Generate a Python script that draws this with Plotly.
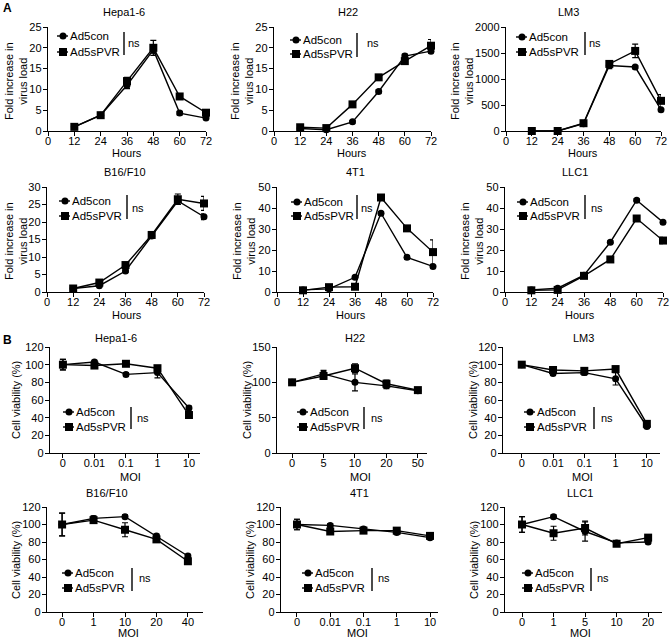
import plotly.graph_objects as go

W, H = 671, 641
FONT = "Arial, Liberation Sans, sans-serif"

# ---------------- data ----------------
hours = [12, 24, 36, 48, 60, 72]

hepa_load_con = [1.0, 3.8, 11.0, 19.5, 4.3, 3.1]
hepa_load_con_err = [0.2, 0.3, 0.8, 0.8, 0.4, 0.3]
hepa_load_pvr = [1.0, 3.8, 12.0, 20.0, 8.3, 4.4]
hepa_load_pvr_err = [0.2, 0.3, 0.9, 1.8, 0.5, 0.5]

h22_load_con = [0.6, 0.3, 2.2, 9.5, 18.0, 19.2]
h22_load_con_err = [0.2, 0.1, 0.3, 0.4, 0.5, 0.5]
h22_load_pvr = [0.9, 0.7, 6.4, 12.9, 16.8, 20.5]
h22_load_pvr_err = [0.2, 0.2, 0.4, 0.4, 0.6, 1.5]

lm3_load_con = [0, 0, 140, 1260, 1230, 410]
lm3_load_con_err = [5, 5, 20, 60, 30, 30]
lm3_load_pvr = [0, 0, 150, 1290, 1540, 580]
lm3_load_pvr_err = [5, 5, 20, 40, 130, 120]

b16_load_con = [1.0, 1.8, 6.0, 16.0, 26.0, 21.5]
b16_load_con_err = [0.2, 0.3, 0.4, 0.5, 1.0, 0.8]
b16_load_pvr = [1.0, 2.7, 7.7, 16.3, 26.5, 25.3]
b16_load_pvr_err = [0.2, 0.3, 0.4, 0.5, 1.5, 2.0]

t41_load_con = [1.0, 1.5, 7.0, 37.5, 16.5, 12.2]
t41_load_con_err = [0.2, 0.3, 0.5, 0.8, 0.8, 0.8]
t41_load_pvr = [0.8, 2.3, 2.5, 45.0, 30.3, 19.0]
t41_load_pvr_err = [0.2, 0.3, 0.4, 0.8, 0.8, 5.8]

llc_load_con = [1.0, 1.8, 8.0, 23.7, 43.7, 33.2]
llc_load_con_err = [0.2, 0.3, 0.5, 0.6, 0.6, 0.6]
llc_load_pvr = [0.8, 1.0, 7.7, 15.5, 35.0, 24.5]
llc_load_pvr_err = [0.2, 0.3, 0.5, 0.6, 0.6, 1.5]

moi_hepa = ["0", "0.01", "0.1", "1", "10"]
hepa_via_con = [100, 103, 89, 91, 51]
hepa_via_con_err = [6, 2, 2, 6, 2]
hepa_via_pvr = [100, 99, 101, 96, 43]
hepa_via_pvr_err = [6, 3, 2, 3, 2]

moi_h22 = ["0", "5", "10", "20", "50"]
h22_via_con = [100, 112, 100, 95, 88]
h22_via_con_err = [2, 5, 12, 4, 3]
h22_via_pvr = [100, 109, 120, 98, 89]
h22_via_pvr_err = [2, 5, 6, 5, 3]

moi_lm3 = ["0", "0.01", "0.1", "1", "10"]
lm3_via_con = [100, 90, 91, 84, 30]
lm3_via_con_err = [2, 2, 3, 7, 2]
lm3_via_pvr = [100, 94, 93, 95, 33]
lm3_via_pvr_err = [2, 2, 3, 3, 2]

moi_b16 = ["0", "1", "10", "20", "40"]
b16_via_con = [100, 107, 109, 87, 64]
b16_via_con_err = [13, 3, 2, 2, 2]
b16_via_pvr = [100, 105, 94, 83, 58]
b16_via_pvr_err = [13, 3, 8, 2, 2]

moi_4t1 = ["0", "0.01", "0.1", "1", "10"]
t41_via_con = [100, 99, 95, 91, 85]
t41_via_con_err = [6, 2, 2, 2, 2]
t41_via_pvr = [100, 92, 93, 93, 87]
t41_via_pvr_err = [6, 3, 2, 2, 2]

moi_llc = ["0", "1", "5", "10", "20"]
llc_via_con = [100, 109, 92, 79, 80]
llc_via_con_err = [9, 2, 11, 2, 2]
llc_via_pvr = [100, 90, 96, 78, 85]
llc_via_pvr_err = [9, 8, 8, 2, 2]

titles = ["Hepa1-6", "H22", "LM3", "B16/F10", "4T1", "LLC1",
          "Hepa1-6", "H22", "LM3", "B16/F10", "4T1", "LLC1"]
series_names = ["Ad5con", "Ad5sPVR"]

# ---------------- panel layout (pixels) ----------------
load_title = "Fold increase in<br>virus load"
via_title = "Cell viability (%)"

panels = [
    dict(x=hours, c=hepa_load_con, ce=hepa_load_con_err, p=hepa_load_pvr, pe=hepa_load_pvr_err,
         xd=(48, 206), yd=(27, 131), xr=(0, 72), yr=(0, 25), dy=5, tp=(124, 12), yt=16, yty=81,
         xt=("Hours", 127, 153), lg=(63, 36, 52, 124, 32, 55, 134, 43)),
    dict(x=hours, c=h22_load_con, ce=h22_load_con_err, p=h22_load_pvr, pe=h22_load_pvr_err,
         xd=(274, 431), yd=(27, 131), xr=(0, 72), yr=(0, 25), dy=5, tp=(348, 12), yt=242, yty=81,
         xt=("Hours", 352, 153), lg=(296, 40, 54, 357, 33, 57, 373, 43)),
    dict(x=hours, c=lm3_load_con, ce=lm3_load_con_err, p=lm3_load_pvr, pe=lm3_load_pvr_err,
         xd=(506, 661), yd=(27, 131), xr=(0, 72), yr=(0, 2000), dy=500, tp=(568, 12), yt=462, yty=81,
         xt=("Hours", 583, 153), lg=(522, 37, 52, 585, 32, 55, 595, 43)),
    dict(x=hours, c=b16_load_con, ce=b16_load_con_err, p=b16_load_pvr, pe=b16_load_pvr_err,
         xd=(47, 204), yd=(187, 292), xr=(0, 72), yr=(0, 30), dy=5, tp=(125, 172), yt=16, yty=241,
         xt=("Hours", 127, 315), lg=(65, 201, 216, 127, 195, 219, 138, 208)),
    dict(x=hours, c=t41_load_con, ce=t41_load_con_err, p=t41_load_pvr, pe=t41_load_pvr_err,
         xd=(277, 433), yd=(187, 292), xr=(0, 72), yr=(0, 50), dy=10, tp=(355, 172), yt=244, yty=241,
         xt=("Hours", 351, 315), lg=(297, 202, 216, 357, 195, 219, 367, 208)),
    dict(x=hours, c=llc_load_con, ce=llc_load_con_err, p=llc_load_pvr, pe=llc_load_pvr_err,
         xd=(505, 663), yd=(187, 292), xr=(0, 72), yr=(0, 50), dy=10, tp=(575, 172), yt=472, yty=241,
         xt=("Hours", 580, 315), lg=(523, 202, 216, 585, 195, 219, 597, 208)),
    dict(x=moi_hepa, c=hepa_via_con, ce=hepa_via_con_err, p=hepa_via_pvr, pe=hepa_via_pvr_err,
         xd=(50, 200), yd=(347, 453), xr=(-0.41, 4.35), yr=(0, 120), dy=20, tp=(116, 338), yt=16, yty=400,
         xt=("MOI", 130, 477), lg=(69, 412, 427, 131, 407, 429, 143, 418)),
    dict(x=moi_h22, c=h22_via_con, ce=h22_via_con_err, p=h22_via_pvr, pe=h22_via_pvr_err,
         xd=(277, 427), yd=(347, 453), xr=(-0.48, 4.29), yr=(0, 150), dy=50, tp=(355, 338), yt=247, yty=400,
         xt=("MOI", 360, 477), lg=(303, 412, 427, 364, 407, 429, 377, 418)),
    dict(x=moi_lm3, c=lm3_via_con, ce=lm3_via_con_err, p=lm3_via_pvr, pe=lm3_via_pvr_err,
         xd=(503, 660), yd=(347, 453), xr=(-0.6, 4.42), yr=(0, 120), dy=20, tp=(583, 338), yt=473, yty=400,
         xt=("MOI", 582, 477), lg=(530, 412, 427, 594, 407, 429, 607, 418)),
    dict(x=moi_b16, c=b16_via_con, ce=b16_via_con_err, p=b16_via_pvr, pe=b16_via_pvr_err,
         xd=(47, 203), yd=(507, 612), xr=(-0.48, 4.48), yr=(0, 120), dy=20, tp=(107, 493), yt=16, yty=560,
         xt=("MOI", 128, 633), lg=(68, 573, 588, 132, 568, 591, 145, 578)),
    dict(x=moi_4t1, c=t41_via_con, ce=t41_via_con_err, p=t41_via_pvr, pe=t41_via_pvr_err,
         xd=(281, 438), yd=(507, 612), xr=(-0.48, 4.24), yr=(0, 120), dy=20, tp=(359, 493), yt=250, yty=560,
         xt=("MOI", 357, 633), lg=(308, 573, 588, 372, 568, 591, 384, 578)),
    dict(x=moi_llc, c=llc_via_con, ce=llc_via_con_err, p=llc_via_pvr, pe=llc_via_pvr_err,
         xd=(505, 662), yd=(507, 612), xr=(-0.54, 4.44), yr=(0, 120), dy=20, tp=(580, 493), yt=474, yty=560,
         xt=("MOI", 580, 633), lg=(528, 573, 588, 591, 568, 591, 603, 578)),
]


def px(x):
    return x / W


def py(y):
    return 1 - y / H


fig = go.Figure()
annotations = []
shapes = []
LW = 1.4

for i, P in enumerate(panels):
    n = i + 1
    xa = "x" if n == 1 else f"x{n}"
    ya = "y" if n == 1 else f"y{n}"
    for vals, errs, sym, size in ((P["c"], P["ce"], "circle", 7), (P["p"], P["pe"], "square", 8)):
        fig.add_trace(go.Scatter(
            x=P["x"], y=vals, xaxis=xa, yaxis=ya, mode="lines+markers",
            line=dict(color="black", width=LW),
            marker=dict(symbol=sym, size=size, color="black"),
            error_y=dict(type="data", array=errs, visible=True, color="black", thickness=1.2, width=3),
            cliponaxis=False, showlegend=False,
        ))
    is_cat = isinstance(P["x"][0], str)
    axis_common = dict(showline=True, linecolor="black", linewidth=LW, ticks="outside",
                       ticklen=4, tickwidth=LW, tickcolor="black", showgrid=False, zeroline=False,
                       automargin=False,
                       tickfont=dict(family=FONT, size=11, color="black"))
    xkw = dict(axis_common, domain=[px(P["xd"][0]), px(P["xd"][1])], anchor=ya, range=list(P["xr"]),
               ticklabelstandoff=-4)
    if is_cat:
        xkw.update(type="category", categoryorder="array", categoryarray=P["x"])
    else:
        xkw.update(tickmode="array", tickvals=[0, 12, 24, 36, 48, 60, 72])
    ykw = dict(axis_common, domain=[py(P["yd"][1]), py(P["yd"][0])], anchor=xa, range=list(P["yr"]),
               tickmode="linear", tick0=0, dtick=P["dy"], ticklabelstandoff=-1)
    fig.update_layout(**{("xaxis" if n == 1 else f"xaxis{n}"): xkw,
                         ("yaxis" if n == 1 else f"yaxis{n}"): ykw})

    annotations.append(dict(text=titles[i], x=px(P["tp"][0]), y=py(P["tp"][1]), xref="paper", yref="paper",
                            showarrow=False, xanchor="center", yanchor="middle",
                            font=dict(family=FONT, size=11, color="black")))
    annotations.append(dict(text=load_title if i < 6 else via_title, x=px(P["yt"]), y=py(P["yty"]),
                            xref="paper", yref="paper", showarrow=False, textangle=-90,
                            xanchor="center", yanchor="middle",
                            font=dict(family=FONT, size=11, color="black")))
    annotations.append(dict(text=P["xt"][0], x=px(P["xt"][1]), y=py(P["xt"][2]), xref="paper", yref="paper",
                            showarrow=False, xanchor="center", yanchor="middle",
                            font=dict(family=FONT, size=11, color="black")))
    mx, y1, y2, vx, vy0, vy1, nsx, nsy = P["lg"]
    for (yy, sym, nm) in ((y1, "circle", series_names[0]), (y2, "square", series_names[1])):
        shapes.append(dict(type="line", xref="paper", yref="paper", x0=px(mx - 6), x1=px(mx + 5),
                           y0=py(yy), y1=py(yy), line=dict(color="black", width=LW)))
        r = 3.5 if sym == "circle" else 4
        shapes.append(dict(type=sym if sym == "circle" else "rect", xref="paper", yref="paper",
                           x0=px(mx - r), x1=px(mx + r), y0=py(yy + r), y1=py(yy - r),
                           fillcolor="black", line=dict(color="black", width=0)))
        annotations.append(dict(text=nm, x=px(mx + 5), y=py(yy), xref="paper", yref="paper",
                                showarrow=False, xanchor="left", yanchor="middle",
                                font=dict(family=FONT, size=11.5, color="black")))
    shapes.append(dict(type="line", xref="paper", yref="paper", x0=px(vx), x1=px(vx),
                       y0=py(vy0), y1=py(vy1), line=dict(color="black", width=LW)))
    annotations.append(dict(text="ns", x=px(nsx), y=py(nsy), xref="paper", yref="paper",
                            showarrow=False, xanchor="center", yanchor="middle",
                            font=dict(family=FONT, size=11, color="black")))

annotations.append(dict(text="<b>A</b>", x=px(7), y=py(8), xref="paper", yref="paper", showarrow=False,
                        xanchor="center", yanchor="middle", font=dict(family=FONT, size=12, color="black")))
annotations.append(dict(text="<b>B</b>", x=px(7), y=py(340), xref="paper", yref="paper", showarrow=False,
                        xanchor="center", yanchor="middle", font=dict(family=FONT, size=12, color="black")))

fig.update_layout(width=W, height=H, autosize=False, margin=dict(l=0, r=0, t=0, b=0),
                  paper_bgcolor="white", plot_bgcolor="white", showlegend=False,
                  annotations=annotations, shapes=shapes, font=dict(family=FONT, color="black"))

fig.write_html("out.html", config={"displayModeBar": False},
               post_script="document.body.style.margin='0';document.body.style.overflow='hidden';")
